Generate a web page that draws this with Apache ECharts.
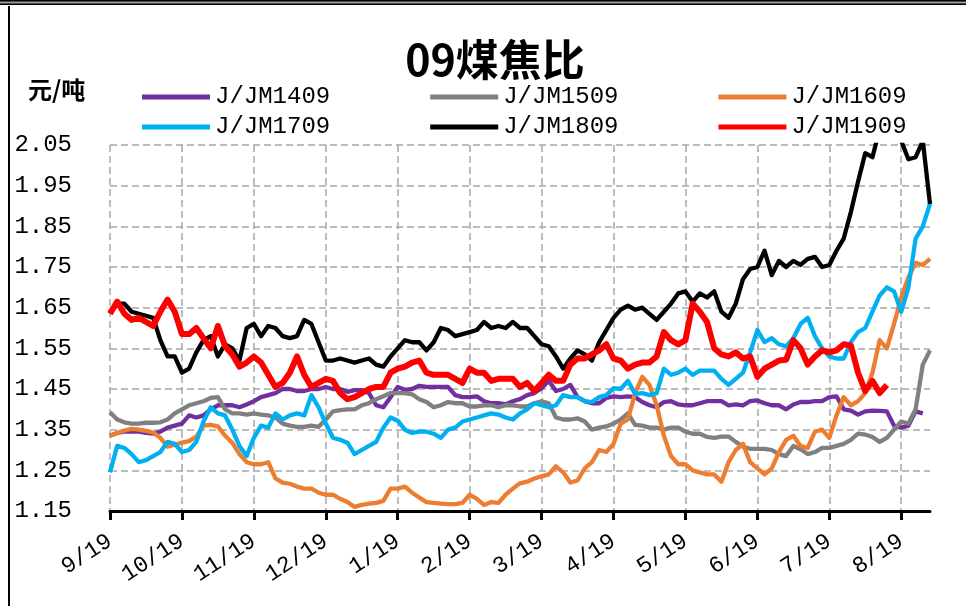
<!DOCTYPE html>
<html>
<head>
<meta charset="utf-8">
<script src="https://cdn.jsdelivr.net/npm/echarts@6/dist/echarts.min.js"></script>
<style>
html,body{margin:0;padding:0;background:#fff;}
#chart{width:966px;height:606px;}
</style>
</head>
<body>
<div id="chart"></div>
<script>
// Month tick labels (one every 10 sample points)
const monthLabels = ['9/19','10/19','11/19','12/19','1/19','2/19','3/19','4/19','5/19','6/19','7/19','8/19'];
const yTicks = {min: 1.15, max: 2.05, step: 0.1};

const j1409 = [1.335,1.342,1.345,1.345,1.345,1.342,1.34,1.345,1.355,1.36,
1.365,1.385,1.38,1.385,1.40,1.41,1.41,1.41,1.405,1.412,
1.42,1.43,1.435,1.44,1.45,1.45,1.445,1.445,1.45,1.45,
1.455,1.45,1.45,1.443,1.447,1.447,1.44,1.41,1.405,1.43,
1.455,1.448,1.45,1.458,1.455,1.455,1.455,1.455,1.435,1.43,
1.43,1.432,1.42,1.415,1.415,1.412,1.42,1.425,1.435,1.44,
1.452,1.47,1.445,1.45,1.46,1.43,1.42,1.415,1.415,1.428,
1.432,1.43,1.432,1.43,1.418,1.41,1.405,1.418,1.42,1.412,
1.41,1.41,1.415,1.42,1.42,1.42,1.41,1.412,1.41,1.42,
1.422,1.415,1.41,1.41,1.40,1.412,1.418,1.418,1.42,1.42,
1.43,1.432,1.40,1.397,1.387,1.395,1.397,1.396,1.395,1.36,
1.355,1.36,1.395,1.39];

const j1509 = [1.393,1.375,1.368,1.365,1.365,1.367,1.367,1.368,1.375,1.39,
1.40,1.41,1.415,1.42,1.428,1.43,1.40,1.39,1.39,1.387,
1.39,1.387,1.385,1.38,1.365,1.36,1.357,1.357,1.36,1.357,
1.375,1.395,1.398,1.40,1.40,1.41,1.415,1.425,1.432,1.44,
1.44,1.44,1.437,1.425,1.418,1.405,1.41,1.418,1.415,1.415,
1.407,1.407,1.41,1.41,1.405,1.41,1.41,1.407,1.407,1.415,
1.42,1.415,1.38,1.375,1.375,1.378,1.37,1.35,1.355,1.358,
1.365,1.375,1.39,1.362,1.36,1.355,1.355,1.35,1.355,1.355,
1.345,1.34,1.34,1.332,1.33,1.333,1.333,1.32,1.308,1.303,
1.303,1.303,1.30,1.29,1.285,1.31,1.302,1.29,1.295,1.305,
1.305,1.31,1.315,1.325,1.34,1.338,1.332,1.32,1.33,1.35,
1.37,1.365,1.40,1.51,1.545];

const j1609 = [1.335,1.342,1.348,1.352,1.35,1.347,1.343,1.33,1.308,1.313,
1.318,1.322,1.333,1.36,1.362,1.358,1.335,1.318,1.29,1.27,
1.265,1.265,1.27,1.23,1.22,1.217,1.21,1.205,1.205,1.195,
1.19,1.19,1.18,1.172,1.16,1.165,1.168,1.17,1.175,1.205,
1.205,1.21,1.195,1.183,1.172,1.17,1.168,1.167,1.167,1.17,
1.19,1.18,1.165,1.172,1.17,1.19,1.205,1.218,1.222,1.23,
1.235,1.24,1.26,1.245,1.22,1.225,1.255,1.27,1.30,1.295,
1.315,1.365,1.375,1.44,1.48,1.46,1.41,1.335,1.285,1.265,
1.265,1.25,1.245,1.24,1.24,1.222,1.27,1.30,1.315,1.27,
1.255,1.24,1.255,1.295,1.325,1.335,1.31,1.305,1.345,1.35,
1.33,1.385,1.43,1.41,1.42,1.44,1.49,1.57,1.55,1.61,
1.675,1.725,1.76,1.755,1.77];

const j1709 = [1.245,1.31,1.305,1.29,1.27,1.275,1.285,1.295,1.32,1.315,
1.295,1.30,1.32,1.37,1.405,1.39,1.385,1.35,1.31,1.285,
1.33,1.36,1.355,1.39,1.375,1.385,1.39,1.385,1.435,1.405,
1.365,1.33,1.325,1.318,1.29,1.30,1.31,1.32,1.355,1.38,
1.372,1.35,1.342,1.345,1.345,1.34,1.33,1.35,1.355,1.37,
1.375,1.38,1.385,1.39,1.387,1.38,1.375,1.39,1.40,1.415,
1.41,1.405,1.41,1.435,1.43,1.43,1.42,1.418,1.43,1.435,
1.452,1.45,1.47,1.438,1.44,1.435,1.44,1.50,1.485,1.49,
1.50,1.485,1.495,1.495,1.495,1.475,1.46,1.475,1.49,1.54,
1.595,1.565,1.575,1.56,1.555,1.575,1.61,1.625,1.58,1.55,
1.53,1.525,1.525,1.565,1.59,1.60,1.64,1.68,1.70,1.69,
1.64,1.70,1.82,1.85,1.905];

const j1809 = [1.64,1.66,1.66,1.64,1.635,1.63,1.625,1.57,1.53,1.53,
1.49,1.50,1.54,1.57,1.58,1.53,1.56,1.55,1.52,1.60,
1.61,1.58,1.605,1.60,1.58,1.575,1.58,1.62,1.61,1.565,
1.52,1.52,1.525,1.52,1.515,1.52,1.525,1.51,1.505,1.53,
1.55,1.57,1.565,1.565,1.545,1.565,1.60,1.595,1.58,1.585,
1.59,1.595,1.615,1.60,1.605,1.60,1.615,1.60,1.60,1.58,
1.56,1.555,1.53,1.50,1.525,1.545,1.535,1.52,1.565,1.595,
1.625,1.645,1.655,1.645,1.65,1.635,1.62,1.64,1.66,1.685,
1.69,1.665,1.685,1.675,1.69,1.64,1.625,1.66,1.72,1.745,
1.75,1.79,1.73,1.765,1.75,1.765,1.755,1.77,1.775,1.75,
1.755,1.79,1.82,1.885,1.96,2.03,2.02,2.09,2.12,2.10,
2.06,2.015,2.02,2.06,1.905];

const j1909 = [1.635,1.665,1.635,1.62,1.625,1.615,1.605,1.64,1.67,1.64,
1.585,1.585,1.60,1.575,1.55,1.605,1.555,1.535,1.505,1.515,
1.53,1.515,1.485,1.455,1.465,1.49,1.53,1.485,1.455,1.465,
1.475,1.47,1.44,1.425,1.43,1.44,1.45,1.455,1.455,1.49,
1.50,1.505,1.515,1.52,1.49,1.485,1.485,1.485,1.475,1.465,
1.50,1.49,1.49,1.47,1.475,1.475,1.475,1.455,1.465,1.445,
1.465,1.485,1.47,1.47,1.51,1.525,1.525,1.535,1.545,1.56,
1.525,1.52,1.50,1.51,1.515,1.515,1.53,1.59,1.57,1.56,
1.57,1.66,1.64,1.615,1.55,1.535,1.53,1.54,1.525,1.53,
1.48,1.50,1.51,1.52,1.522,1.57,1.55,1.51,1.53,1.545,
1.54,1.545,1.56,1.557,1.49,1.445,1.47,1.44,1.46];

const seriesNames = ['J/JM1409','J/JM1509','J/JM1609','J/JM1709','J/JM1809','J/JM1909'];
const seriesColors = ['#7030A0','#808080','#ED7D31','#00B0F0','#000000','#FF0000'];
const seriesData = [j1409, j1509, j1609, j1709, j1809, j1909];

const nPoints = 115;
const pointsPerMonth = 10;
const xCats = Array.from({length: nPoints}, (_, i) => String(i));

const chart = echarts.init(document.getElementById('chart'), null, {renderer: 'canvas'});
const monoFont = "'Liberation Mono', 'DejaVu Sans Mono', monospace";

const option = {
  backgroundColor: '#ffffff',
  animation: false,
  title: {
    text: '09煤焦比',
    left: 490,
    top: 33,
    textAlign: 'center',
    textStyle: {fontSize: 43, fontWeight: 'bold', color: '#000', fontFamily: "'Noto Sans CJK SC', sans-serif"}
  },
  legend: [
    {
      data: seriesNames.slice(0, 3),
      left: 137, top: 80, orient: 'horizontal',
      icon: 'rect', itemWidth: 68, itemHeight: 5, itemGap: 100,
      textStyle: {fontFamily: monoFont, fontSize: 24, color: '#000', width: 116}
    },
    {
      data: seriesNames.slice(3, 6),
      left: 137, top: 110, orient: 'horizontal',
      icon: 'rect', itemWidth: 68, itemHeight: 5, itemGap: 100,
      textStyle: {fontFamily: monoFont, fontSize: 24, color: '#000', width: 116}
    }
  ],
  grid: {left: 110, right: 36, top: 145, bottom: 95, containLabel: false},
  xAxis: {
    type: 'category',
    data: xCats,
    boundaryGap: false,
    axisLine: {show: true, lineStyle: {color: '#000', width: 3}},
    axisTick: {show: true, interval: pointsPerMonth - 1, length: 9, lineStyle: {color: '#000', width: 3}},
    axisLabel: {
      interval: pointsPerMonth - 1,
      rotate: 33,
      margin: 28,
      fontFamily: monoFont,
      fontSize: 23,
      color: '#000',
      formatter: (v) => { const i = +v; return i % pointsPerMonth === 0 ? (monthLabels[i / pointsPerMonth] || '') : ''; }
    },
    splitLine: {show: true, interval: pointsPerMonth - 1, lineStyle: {color: '#A6A6A6', width: 1.5, type: [7, 4]}}
  },
  yAxis: {
    type: 'value',
    min: yTicks.min, max: yTicks.max, interval: yTicks.step,
    axisLine: {show: false},
    axisTick: {show: false},
    axisLabel: {margin: 38, fontFamily: monoFont, fontSize: 24, color: '#000', formatter: (v) => v.toFixed(2)},
    splitLine: {show: true, lineStyle: {color: '#A6A6A6', width: 1.5, type: [7, 4]}}
  },
  series: seriesNames.map((name, k) => ({
    name: name,
    type: 'line',
    data: seriesData[k],
    symbol: 'none',
    showSymbol: false,
    smooth: false,
    clip: true,
    color: seriesColors[k],
    lineStyle: {color: seriesColors[k], width: k === 5 ? 6 : 4.3, join: 'round'},
    z: 2 + k
  })),
  graphic: [
    {type: 'rect', shape: {x: 0, y: 0, width: 966, height: 5}, style: {fill: '#000'}, silent: true},
    {type: 'rect', shape: {x: 0, y: 1.5, width: 966, height: 2}, style: {fill: '#9a9a9a'}, silent: true},
    {type: 'rect', shape: {x: 8, y: 6, width: 2, height: 600}, style: {fill: '#000'}, silent: true},
    {type: 'text', left: 28, top: 78, style: {text: '元/吨', fill: '#000', font: "bold 24px 'Noto Sans CJK SC', sans-serif"}}
  ]
};
chart.setOption(option);
</script>
</body>
</html>
